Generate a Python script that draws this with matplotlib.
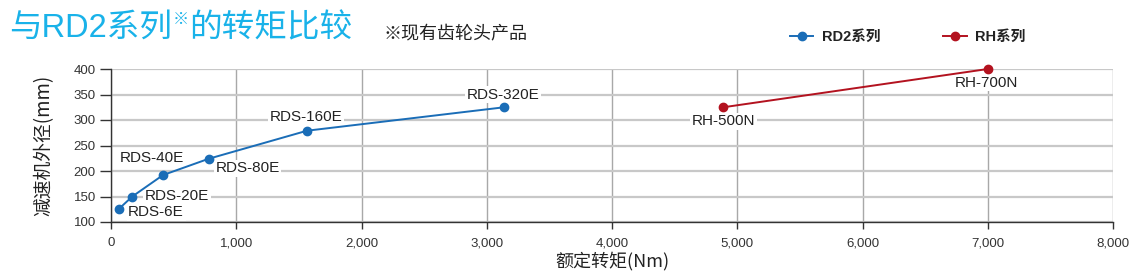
import matplotlib
matplotlib.use("Agg")
import matplotlib.pyplot as plt

plt.rcParams['font.family'] = ['Liberation Sans', 'Noto Sans CJK SC', 'DejaVu Sans']

rd2_torque = [60, 170, 415, 780, 1565, 3140]
rd2_diam = [125, 150, 192, 224, 279, 325]
rd2_names = ["RDS-6E", "RDS-20E", "RDS-40E", "RDS-80E", "RDS-160E", "RDS-320E"]

rh_torque = [4890, 7000]
rh_diam = [325, 400]
rh_names = ["RH-500N", "RH-700N"]

xticks = [0, 1000, 2000, 3000, 4000, 5000, 6000, 7000, 8000]
xticklabels = ["0", "1,000", "2,000", "3,000", "4,000", "5,000", "6,000", "7,000", "8,000"]
yticks = [100, 150, 200, 250, 300, 350, 400]

BLUE = "#1a6db7"
RED = "#b3121f"
CYAN = "#19b2e9"

fig = plt.figure(figsize=(11.37, 2.75), dpi=100)
ax = fig.add_axes([111/1137, 1-222/275, (1113-111)/1137, (222-69)/275])

l1, = ax.plot(rd2_torque, rd2_diam, color=BLUE, lw=1.4, marker='o', ms=6, label="RD2系列", zorder=4)
l2, = ax.plot(rh_torque, rh_diam, color=RED, lw=1.4, marker='o', ms=6, label="RH系列", zorder=4, clip_on=False)

ax.set_xlim(0, 8000)
ax.set_ylim(100, 400)
ax.set_xticks(xticks)
ax.set_xticklabels(xticklabels)
ax.set_yticks(yticks)

for x in xticks:
    ax.axvline(x, color="#a8a8a8", lw=1.0, zorder=1)
for y in yticks:
    ax.axhline(y, color="#c8c8c8", lw=1.6, zorder=1)

for s in ["top", "right"]:
    ax.spines[s].set_visible(False)
for s in ["left", "bottom"]:
    ax.spines[s].set_color("#333333")
    ax.spines[s].set_linewidth(1.0)
    ax.spines[s].set_zorder(3)
ax.tick_params(axis='x', direction='out', length=5, width=1, color="#333333", labelsize=9.5, labelcolor="#333333", pad=6)
ax.tick_params(axis='y', direction='out', length=8, width=1, color="#333333", labelsize=9.5, labelcolor="#333333", pad=3)

ax.set_xlabel("额定转矩(Nm)", fontsize=13, color="#222222", labelpad=2, family=['Noto Sans CJK SC'])
ax.set_ylabel("减速机外径(mm)", fontsize=13.5, color="#222222", labelpad=14, family=['Noto Sans CJK SC'])

# label offsets (points)
rd2_off = [(7, -2, 'left'), (9, 0, 'left'), (-8, 12, 'center'), (5, -7, 'left'), (-1, 10, 'center'), (-1, 9, 'center')]
rh_off = [(0, -10, 'center'), (-1, -10, 'center')]
bbox = dict(boxstyle="square,pad=0.1", fc="white", ec="none")
for x, y, n, (dx, dy, ha) in zip(rd2_torque, rd2_diam, rd2_names, rd2_off):
    ax.annotate(n, (x, y), xytext=(dx, dy), textcoords='offset points', ha=ha, va='center',
                fontsize=11, color="#222222", bbox=bbox, zorder=2)
for x, y, n, (dx, dy, ha) in zip(rh_torque, rh_diam, rh_names, rh_off):
    ax.annotate(n, (x, y), xytext=(dx, dy), textcoords='offset points', ha=ha, va='center',
                fontsize=11, color="#222222", bbox=bbox, zorder=2, annotation_clip=False)

leg = fig.legend(handles=[l1, l2], loc='center left', bbox_to_anchor=(777/1137, 1-37/275), ncol=2,
                 frameon=False, handlelength=1.6, columnspacing=4.3, handletextpad=0.6,
                 prop={'family': ['Liberation Sans', 'Noto Sans CJK SC'], 'weight': 'bold', 'size': 10.5})
for t in leg.get_texts():
    t.set_color("#222222")

# title
fig.canvas.draw()
r = fig.canvas.get_renderer()
t1 = fig.text(9/1137, 1-28/275, "与RD2系列", fontsize=23.5, color=CYAN, va='center', ha='left',
              family=['Liberation Sans', 'Noto Sans CJK SC'], weight='medium')
bb = t1.get_window_extent(r)
t2 = fig.text((bb.x1 + 1)/1137, 1-19/275, "※", fontsize=11.5, color=CYAN, va='center', ha='left',
              family=['Noto Sans CJK SC'])
bb2 = t2.get_window_extent(r)
t3 = fig.text((bb2.x1 + 0)/1137, 1-28/275, "的转矩比较", fontsize=23.5, color=CYAN, va='center', ha='left',
              family=['Noto Sans CJK SC'], weight='medium')
fig.text(383/1137, 1-33/275, "※现有齿轮头产品", fontsize=13, color="#222222", va='center', ha='left',
         family=['Noto Sans CJK SC'])

fig.savefig("out.png", dpi=100)
